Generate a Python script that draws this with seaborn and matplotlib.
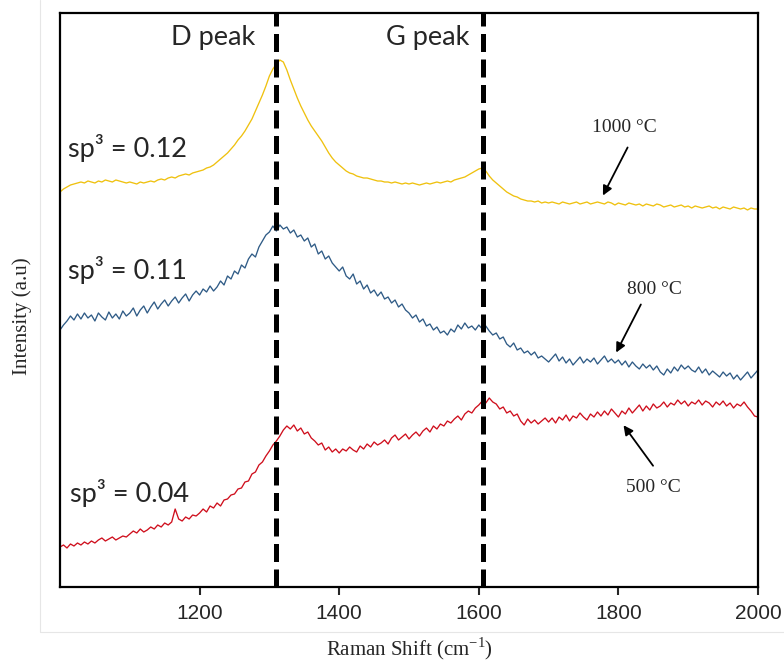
import pandas as pd
import seaborn as sns
import matplotlib.pyplot as plt
from matplotlib.lines import Line2D

# Raman spectra (arbitrary intensity units), 5 cm-1 steps
shift = list(range(1000, 2001, 5))

i_1000 = [
    395, 398, 400, 402, 403, 404, 405, 404, 406, 405, 404, 406, 405, 407, 406, 405, 407, 406, 405, 404,
    405, 404, 403, 405, 404, 405, 406, 405, 407, 408, 407, 409, 410, 409, 411, 412, 413, 412, 414, 415,
    416, 417, 419, 420, 422, 425, 428, 431, 434, 438, 442, 447, 451, 456, 462, 468, 476, 484, 492, 501,
    511, 518, 523, 527, 525, 517, 507, 498, 489, 481, 474, 467, 461, 456, 451, 446, 440, 434, 429, 425,
    422, 419, 416, 414, 413, 411, 410, 409, 409, 408, 407, 406, 406, 405, 405, 404, 405, 404, 403, 404,
    403, 404, 403, 402, 403, 404, 403, 404, 405, 404, 405, 406, 405, 407, 408, 409, 410, 412, 414, 416,
    418, 419, 416, 411, 407, 404, 401, 398, 395, 393, 391, 390, 388, 387, 386, 386, 385, 386, 384, 385,
    384, 385, 384, 383, 385, 384, 383, 384, 385, 383, 384, 385, 383, 384, 385, 384, 383, 385, 384, 382,
    384, 383, 382, 384, 383, 382, 383, 381, 383, 382, 381, 383, 382, 380, 381, 382, 380, 381, 382, 380,
    381, 379, 381, 380, 379, 380, 381, 379, 380, 378, 380, 379, 378, 380, 379, 378, 379, 377, 379, 378,
    378,
]

i_800 = [
    257, 262, 266, 271, 267, 273, 268, 274, 269, 272, 266, 274, 270, 267, 275, 269, 273, 268, 276, 271,
    274, 279, 271, 277, 281, 274, 280, 285, 278, 283, 287, 281, 286, 290, 284, 289, 293, 286, 292, 296,
    292, 298, 295, 301, 296, 300, 306, 302, 311, 308, 316, 313, 322, 319, 328, 333, 330, 340, 346, 352,
    355, 361, 356, 362, 358, 360, 354, 357, 350, 352, 346, 349, 340, 343, 333, 336, 328, 331, 324, 320,
    316, 320, 311, 308, 313, 303, 306, 298, 302, 294, 297, 291, 295, 288, 290, 284, 287, 280, 283, 277,
    274, 269, 272, 265, 268, 261, 263, 257, 260, 254, 256, 252, 258, 255, 262, 258, 264, 259, 261, 257,
    262, 258, 261, 256, 252, 254, 248, 250, 243, 240, 244, 237, 239, 234, 236, 232, 235, 229, 231, 228,
    225, 229, 233, 226, 230, 224, 228, 222, 226, 230, 224, 228, 225, 229, 223, 227, 231, 225, 228, 224,
    227, 222, 226, 220, 225, 221, 218, 223, 219, 222, 217, 221, 215, 212, 218, 214, 220, 216, 222, 218,
    221, 217, 215, 220, 214, 218, 212, 216, 213, 210, 215, 211, 214, 208, 212, 207, 211, 215, 209, 213,
    217,
]

i_500 = [
    40, 42, 39, 43, 41, 44, 42, 45, 43, 46, 44, 47, 49, 46, 48, 50, 47, 49, 51, 50,
    53, 56, 54, 58, 55, 57, 60, 58, 62, 60, 64, 62, 65, 78, 68, 66, 70, 68, 72, 71,
    74, 78, 75, 81, 79, 84, 81, 87, 88, 92, 93, 98, 99, 105, 106, 113, 115, 122, 125, 131,
    136, 142, 146, 151, 157, 161, 158, 162, 156, 159, 153, 155, 149, 146, 142, 144, 137, 140, 135, 138,
    134, 138, 136, 140, 137, 135, 141, 138, 143, 140, 145, 142, 144, 147, 143, 149, 152, 147, 150, 153,
    148, 152, 155, 151, 156, 159, 155, 161, 158, 163, 161, 166, 164, 168, 171, 167, 173, 176, 174, 179,
    182, 186, 184, 189, 185, 183, 178, 180, 174, 176, 171, 173, 166, 162, 168, 164, 167, 163, 166, 169,
    165, 169, 164, 170, 167, 172, 166, 171, 169, 174, 170, 167, 173, 170, 175, 171, 176, 172, 178, 174,
    170, 176, 173, 179, 174, 178, 182, 176, 181, 177, 183, 179, 181, 185, 180, 184, 182, 187, 183, 186,
    181, 185, 183, 187, 182, 186, 184, 180, 185, 182, 186, 181, 184, 179, 183, 181, 185, 180, 176, 171,
    170,
]

temps = ["1000 °C", "800 °C", "500 °C"]
sp3_labels = ["sp³ = 0.12", "sp³ = 0.11", "sp³ = 0.04"]
peak_names = ["D peak", "G peak"]
peak_pos = [1310, 1606]

df = pd.concat([
    pd.DataFrame({"shift": shift, "intensity": i_1000, "temp": temps[0]}),
    pd.DataFrame({"shift": shift, "intensity": i_800, "temp": temps[1]}),
    pd.DataFrame({"shift": shift, "intensity": i_500, "temp": temps[2]}),
])

sns.set_style("white")
plt.rcParams["font.family"] = ["Liberation Sans", "DejaVu Sans"]

fig = plt.figure(figsize=(7.84, 6.64), dpi=100)
ax = fig.add_axes([60 / 784, 1 - 587 / 664, 698 / 784, 574 / 664])

colors = {"1000 °C": "#efc10f", "800 °C": "#2f5b86", "500 °C": "#cf0f1d"}
sns.lineplot(data=df, x="shift", y="intensity", hue="temp", palette=colors,
             estimator=None, linewidth=0.95, legend=False, ax=ax)

for pk in peak_pos:
    ax.axvline(pk, color="black", lw=3.6, dashes=(3.6, 1.5), zorder=3)

ax.set_xlim(1000, 2000)
ax.set_ylim(0, 574)
ax.set_xticks([1200, 1400, 1600, 1800, 2000])
ax.set_yticks([])
ax.tick_params(axis="x", direction="out", length=6, width=1.5, labelsize=15, pad=6,
               bottom=True, top=False)
for sp in ax.spines.values():
    sp.set_color("black")
    sp.set_linewidth(1.6)

ax.set_xlabel("Raman Shift (cm$^{\\mathregular{-1}}$)", family="Liberation Serif",
              fontsize=15, labelpad=9)
ax.set_ylabel("Intensity (a.u)", family="Liberation Serif", fontsize=15)
ax.yaxis.set_label_coords(-0.04, 0.472)

# peak names
ax.text(1219, 549, peak_names[0], family="Lato", fontsize=19.5, ha="center", va="center")
ax.text(1527, 549, peak_names[1], family="Lato", fontsize=19.5, ha="center", va="center")

# sp3 fractions
ax.text(1011, 439, sp3_labels[0], family="Lato", fontsize=19.5, ha="left", va="center")
ax.text(1011, 317, sp3_labels[1], family="Lato", fontsize=19.5, ha="left", va="center")
ax.text(1014, 94, sp3_labels[2], family="Lato", fontsize=19.5, ha="left", va="center")

# temperature labels with arrows
ax.text(1809, 460, temps[0], family="Liberation Serif", fontsize=14, ha="center", va="center")
ax.text(1852, 297, temps[1], family="Liberation Serif", fontsize=14, ha="center", va="center")
ax.text(1850, 99, temps[2], family="Liberation Serif", fontsize=14, ha="center", va="center")
arrow = dict(arrowstyle="-|>", color="black", lw=1.3, mutation_scale=14)
ax.annotate("", xy=(1776, 389), xytext=(1815, 442), arrowprops=arrow)
ax.annotate("", xy=(1795, 232), xytext=(1834, 285), arrowprops=arrow)
ax.annotate("", xy=(1805, 164), xytext=(1852, 119), arrowprops=arrow)

# faint frame lines of the original figure
fig.add_artist(Line2D([40 / 784, 40 / 784], [1 - 632 / 664, 1], color="#e6e6e6", lw=0.8))
fig.add_artist(Line2D([40 / 784, 1], [1 - 632 / 664, 1 - 632 / 664], color="#e6e6e6", lw=0.8))

fig.savefig("out.png", dpi=100)
